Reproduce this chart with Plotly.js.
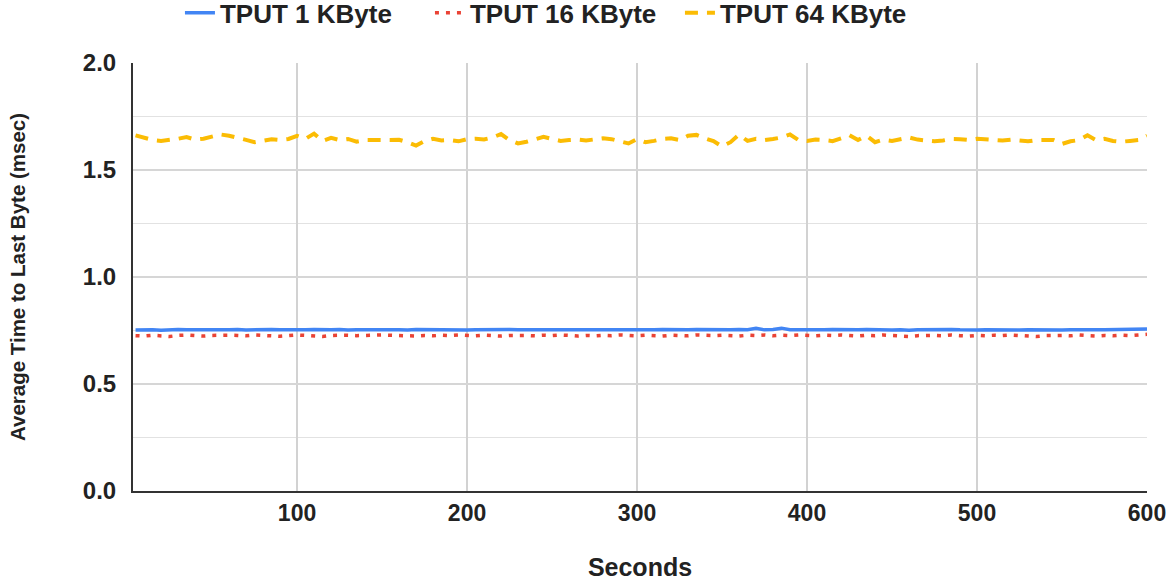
<!DOCTYPE html>
<html>
<head>
<meta charset="utf-8">
<script src="https://cdn.plot.ly/plotly-3.0.1.min.js"></script>
<style>html,body{margin:0;padding:0;background:#fff;}#chart{width:1170px;height:581px;}</style>
</head>
<body>
<div id="chart"></div>
<script>
// Time axis (seconds)
const seconds = Array.from({length: 120}, (_, i) => (i + 1) * 5);

const seriesNames = ["TPUT 1 KByte", "TPUT 16 KByte", "TPUT 64 KByte"];

const tput1 = [
0.752,0.754,0.753,0.751,0.754,0.755,0.753,0.754,0.752,0.755,
0.754,0.753,0.755,0.752,0.754,0.753,0.755,0.754,0.753,0.752,
0.754,0.755,0.753,0.754,0.755,0.752,0.754,0.753,0.754,0.755,
0.753,0.754,0.752,0.755,0.754,0.753,0.754,0.755,0.753,0.752,
0.754,0.755,0.754,0.753,0.755,0.754,0.752,0.754,0.753,0.755,
0.754,0.753,0.754,0.752,0.755,0.754,0.753,0.755,0.754,0.753,
0.752,0.754,0.755,0.753,0.754,0.753,0.755,0.754,0.752,0.754,
0.753,0.755,0.754,0.760,0.753,0.755,0.761,0.754,0.753,0.755,
0.754,0.753,0.755,0.754,0.752,0.754,0.755,0.753,0.754,0.752,
0.753,0.751,0.754,0.755,0.753,0.754,0.755,0.753,0.751,0.752,
0.754,0.753,0.755,0.754,0.752,0.754,0.753,0.755,0.753,0.752,
0.754,0.755,0.753,0.754,0.753,0.754,0.755,0.753,0.754,0.757];

const tput16 = [
0.726,0.724,0.728,0.725,0.722,0.727,0.729,0.726,0.724,0.727,
0.729,0.728,0.727,0.725,0.729,0.727,0.726,0.723,0.726,0.729,
0.727,0.724,0.722,0.727,0.729,0.728,0.726,0.728,0.727,0.729,
0.728,0.726,0.728,0.724,0.727,0.725,0.728,0.726,0.729,0.727,
0.725,0.728,0.726,0.724,0.727,0.729,0.727,0.725,0.728,0.726,
0.729,0.727,0.724,0.727,0.725,0.728,0.726,0.729,0.727,0.725,
0.728,0.726,0.724,0.728,0.727,0.725,0.729,0.727,0.726,0.728,
0.727,0.724,0.728,0.726,0.729,0.725,0.728,0.726,0.729,0.727,
0.725,0.728,0.726,0.729,0.727,0.724,0.728,0.726,0.729,0.727,
0.724,0.722,0.726,0.728,0.727,0.725,0.729,0.726,0.724,0.727,
0.725,0.728,0.726,0.729,0.727,0.724,0.722,0.726,0.728,0.727,
0.725,0.729,0.726,0.724,0.727,0.725,0.728,0.726,0.729,0.732];

const tput64 = [
1.662,1.650,1.640,1.636,1.640,1.646,1.654,1.642,1.646,1.656,
1.666,1.660,1.652,1.641,1.630,1.636,1.644,1.640,1.645,1.660,
1.646,1.670,1.636,1.650,1.640,1.645,1.632,1.640,1.641,1.639,
1.640,1.641,1.630,1.614,1.635,1.646,1.638,1.640,1.634,1.644,
1.646,1.643,1.652,1.668,1.640,1.624,1.632,1.642,1.655,1.645,
1.636,1.640,1.642,1.638,1.645,1.648,1.644,1.635,1.624,1.644,
1.630,1.636,1.645,1.648,1.640,1.660,1.664,1.648,1.635,1.610,
1.630,1.665,1.636,1.646,1.640,1.645,1.652,1.666,1.640,1.636,
1.642,1.640,1.635,1.648,1.662,1.640,1.660,1.630,1.642,1.636,
1.644,1.652,1.642,1.638,1.634,1.638,1.645,1.644,1.640,1.646,
1.642,1.640,1.638,1.642,1.636,1.634,1.640,1.638,1.640,1.622,
1.634,1.640,1.662,1.640,1.646,1.636,1.632,1.636,1.640,1.660];

const xTicks = [100, 200, 300, 400, 500, 600];
const yTicks = [0.0, 0.5, 1.0, 1.5, 2.0];

const FONT = '"Liberation Sans", Arial, sans-serif';

const traces = [
  {x: seconds, y: tput1, name: seriesNames[0], type: 'scatter', mode: 'lines',
   line: {color: '#4285F4', width: 3.5}},
  {x: seconds, y: tput16, name: seriesNames[1], type: 'scatter', mode: 'lines',
   line: {color: '#EA4335', width: 3.5, dash: '4px,7px'}},
  {x: seconds, y: tput64, name: seriesNames[2], type: 'scatter', mode: 'lines',
   line: {color: '#FBBC04', width: 4, dash: '13px,9px'}}
];

const layout = {
  width: 1170, height: 581,
  paper_bgcolor: '#fff', plot_bgcolor: '#fff',
  margin: {l: 133, r: 23, t: 63, b: 90},
  font: {family: FONT, color: '#222', size: 20},
  showlegend: true,
  legend: {
    orientation: 'h', xref: 'container', yref: 'container',
    x: 0.1538, xanchor: 'left', y: 0.978, yanchor: 'middle',
    font: {family: FONT, size: 26, color: '#222', weight: 'bold'},
    itemwidth: 30, tracegroupgap: 0,
    entrywidth: 205, entrywidthmode: 'pixels'
  },
  xaxis: {
    range: [3.5, 600], tickvals: xTicks, ticktext: xTicks.map(String),
    showgrid: true, gridcolor: '#d2d2d2', gridwidth: 2,
    showline: true, linecolor: '#333', linewidth: 2,
    zeroline: false, ticks: '', ticklen: 0,
    tickfont: {family: FONT, size: 23, color: '#222', weight: 'bold'},
    title: {text: 'Seconds', font: {family: FONT, size: 25, color: '#222', weight: 'bold'}, standoff: 40},
    automargin: false
  },
  yaxis: {
    range: [0, 2.0], tickvals: yTicks, ticktext: yTicks.map(v => v.toFixed(1)),
    showgrid: true, gridcolor: '#d6d6d6', gridwidth: 1.5,
    minor: {dtick: 0.25, showgrid: true, gridcolor: '#e2e2e2', gridwidth: 1.5, ticks: ''},
    showline: true, linecolor: '#333', linewidth: 2,
    zeroline: false, ticks: '', ticklen: 0, ticklabelstandoff: 10,
    tickfont: {family: FONT, size: 24, color: '#222', weight: 'bold'},
    title: {text: 'Average Time to Last Byte (msec)', font: {family: FONT, size: 20.5, color: '#222', weight: 'bold'}, standoff: 52},
    automargin: true
  }
};

Plotly.newPlot('chart', traces, layout, {displayModeBar: false, staticPlot: true});
</script>
</body>
</html>
